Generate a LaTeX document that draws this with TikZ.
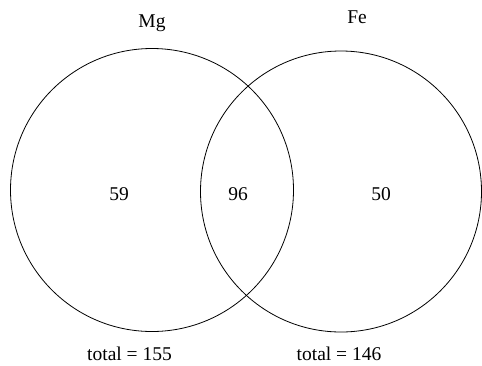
\documentclass[tikz,border=0pt]{standalone}
\usepackage{fontspec}
\setmainfont{Liberation Serif}
\begin{document}
\begin{tikzpicture}[x=1pt,y=-1pt,
  set/.style={draw=black,line width=0.8pt,fill=none},
  lbl/.style={anchor=base,inner sep=0pt,font=\fontsize{19.5}{22}\selectfont}]
\useasboundingbox (0,0) rectangle (482,365);
\draw[set] (152,190) circle[radius=141.5] coordinate (mgc);
\draw[set] (341,191.5) circle[radius=140.5] coordinate (fec);
\node[lbl] (mg) at (152,27) {Mg};
\node[lbl] (fe) at (357,23) {Fe};
\node[lbl] (a) at (119,200) {59};
\node[lbl] (b) at (238,200) {96};
\node[lbl] (c) at (381,200) {50};
\node[lbl] (t1) at (129.5,360) {total = 155};
\node[lbl] (t2) at (339,360) {total = 146};
\end{tikzpicture}
\end{document}
